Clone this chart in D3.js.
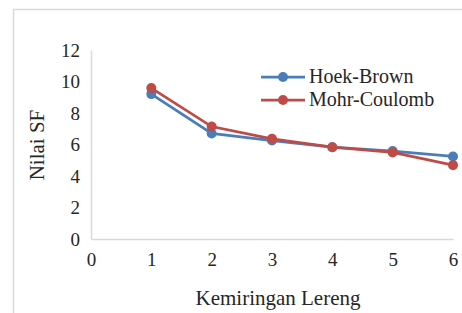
<!DOCTYPE html>
<html>
<head>
<meta charset="utf-8">
<script src="https://cdn.jsdelivr.net/npm/d3@7"></script>
<style>
  body { margin: 0; background: #fff; }
</style>
</head>
<body>
<div class="chart"></div>
<script>
// data
const xValues = [1, 2, 3, 4, 5, 6]
const hoekBrown = [9.2, 6.7, 6.25, 5.83, 5.58, 5.24]
const mohrCoulomb = [9.58, 7.14, 6.36, 5.83, 5.5, 4.69]
const seriesNames = ['Hoek-Brown', 'Mohr-Coulomb']
const seriesColors = ['#4a7ebb', '#be4b48']
const xTicks = [0, 1, 2, 3, 4, 5, 6]
const yTicks = [0, 2, 4, 6, 8, 10, 12]

const FONT = '"Liberation Serif", "Times New Roman", serif'
const INK = '#262626'

const W = 462, H = 313
const margin = {top: 50, right: 9, bottom: 74, left: 91}
const width = W - margin.left - margin.right
const height = H - margin.top - margin.bottom

const root = d3.select('.chart')
  .append('svg')
    .attr('width', W)
    .attr('height', H)

// chart area border (only top and left are visible)
root.append('rect')
  .attr('x', 13.5).attr('y', 9.5)
  .attr('width', 500).attr('height', 400)
  .attr('fill', 'none')
  .attr('stroke', '#d9d9d9')
  .attr('stroke-width', 1.5)

const svg = root.append('g')
  .attr('transform', `translate(${margin.left}, ${margin.top})`)

const xScale = d3.scaleLinear().domain([0, 6]).range([0, width])
const yScale = d3.scaleLinear().domain([0, 12]).range([height, 0])

const yAxis = d3.axisLeft(yScale).tickValues(yTicks).tickFormat(d3.format('d'))
  .tickSize(0).tickPadding(11)
const gy = svg.append('g').call(yAxis)
  .attr('font-family', FONT).attr('font-size', 19)
gy.select('.domain').attr('stroke', '#d9d9d9').attr('stroke-width', 1.5)
gy.selectAll('text').attr('fill', INK)

const xAxis = d3.axisBottom(xScale).tickValues(xTicks).tickFormat(d3.format('d'))
  .tickSize(0).tickPadding(14)
const gx = svg.append('g')
  .attr('transform', `translate(0, ${height})`)
  .call(xAxis)
  .attr('font-family', FONT).attr('font-size', 19)
gx.select('.domain').attr('stroke', '#d9d9d9').attr('stroke-width', 1.5)
gx.selectAll('text').attr('fill', INK)

const series = [hoekBrown, mohrCoulomb].map((vals, i) => ({
  name: seriesNames[i],
  color: seriesColors[i],
  points: vals.map((v, j) => ({x: xValues[j], y: v}))
}))

const line = d3.line().x(d => xScale(d.x)).y(d => yScale(d.y))

series.forEach(s => {
  svg.append('path')
    .datum(s.points)
    .attr('fill', 'none')
    .attr('stroke', s.color)
    .attr('stroke-width', 2.75)
    .attr('d', line)
  svg.selectAll('.pt-' + s.name)
    .data(s.points)
    .enter()
    .append('circle')
      .attr('cx', d => xScale(d.x))
      .attr('cy', d => yScale(d.y))
      .attr('r', 5)
      .attr('fill', s.color)
})

// legend
const legend = root.append('g').attr('transform', 'translate(261, 77)')
series.forEach((s, i) => {
  const g = legend.append('g').attr('transform', `translate(0, ${i * 23})`)
  g.append('line').attr('x1', 0).attr('x2', 44).attr('y1', 0).attr('y2', 0)
    .attr('stroke', s.color).attr('stroke-width', 2.75)
  g.append('circle').attr('cx', 22).attr('cy', 0).attr('r', 5).attr('fill', s.color)
  g.append('text').attr('x', 48).attr('y', 6)
    .attr('font-family', FONT).attr('font-size', 20).attr('fill', INK)
    .text(s.name)
})

// axis titles
root.append('text')
  .attr('x', 278).attr('y', 305)
  .attr('text-anchor', 'middle')
  .attr('font-family', FONT).attr('font-size', 21).attr('fill', INK)
  .text('Kemiringan Lereng')

root.append('text')
  .attr('transform', 'translate(44, 145) rotate(-90)')
  .attr('text-anchor', 'middle')
  .attr('font-family', FONT).attr('font-size', 21).attr('fill', INK)
  .text('Nilai SF')
</script>
</body>
</html>
